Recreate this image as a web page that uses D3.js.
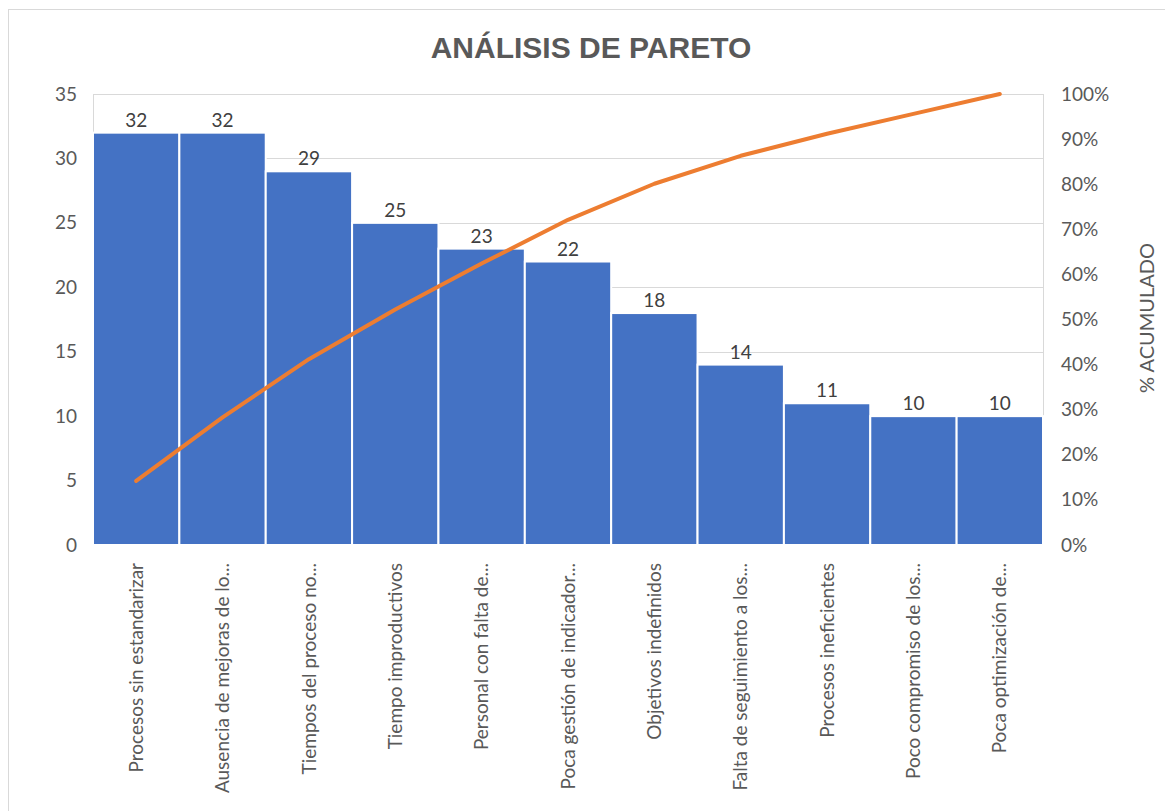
<!DOCTYPE html>
<html><head><meta charset="utf-8">
<script src="https://cdn.jsdelivr.net/npm/d3@7"></script>
<style>body{margin:0;background:#fff}svg{display:block}</style>
</head><body>
<script>
const categories = ["Procesos sin estandarizar","Ausencia de mejoras de lo...","Tiempos del proceso no...","Tiempo improductivos","Personal con falta de...","Poca gestión de indicador...","Objetivos indefinidos","Falta de seguimiento a los...","Procesos ineficientes","Poco compromiso de los...","Poca optimización de..."];
const counts = [32,32,29,25,23,22,18,14,11,10,10];
const cumulativePct = [14.2,28.3,41.2,52.2,62.4,72.1,80.1,86.3,91.2,95.6,100];
const leftTicks = [0,5,10,15,20,25,30,35];
const rightTicks = [0,10,20,30,40,50,60,70,80,90,100];

const W=1165,H=811;
const m={l:93,r:1043,t:94,b:545};
const svg=d3.select("body").append("svg").attr("width",W).attr("height",H);
svg.append("rect").attr("x",8.5).attr("y",9.5).attr("width",W).attr("height",H).attr("fill","#fff").attr("stroke","#d9d9d9");

const x=d3.scaleBand().domain(categories).range([m.l,m.r]).padding(0);
const y=d3.scaleLinear().domain([0,35]).range([m.b,m.t]);
const y2=d3.scaleLinear().domain([0,100]).range([m.b,m.t]);
const font="Lato, 'Open Sans', sans-serif";

// gridlines
svg.append("g").selectAll("line").data(leftTicks).join("line")
 .attr("x1",m.l).attr("x2",m.r).attr("y1",d=>Math.round(y(d))+0.5).attr("y2",d=>Math.round(y(d))+0.5)
 .attr("stroke","#d9d9d9").attr("stroke-width",1);
svg.append("line").attr("x1",m.l+0.5).attr("x2",m.l+0.5).attr("y1",m.t).attr("y2",m.b).attr("stroke","#d9d9d9");
svg.append("line").attr("x1",m.r+0.5).attr("x2",m.r+0.5).attr("y1",m.t).attr("y2",m.b).attr("stroke","#d9d9d9");

// bars
svg.append("g").selectAll("rect").data(counts).join("rect")
 .attr("x",(d,i)=>x(categories[i])).attr("width",x.bandwidth())
 .attr("y",d=>y(d)).attr("height",d=>y(0)-y(d))
 .attr("fill","#4472C4").attr("stroke","#fff").attr("stroke-width",2);

// bar labels
svg.append("g").selectAll("text").data(counts).join("text")
 .attr("x",(d,i)=>x(categories[i])+x.bandwidth()/2).attr("y",d=>y(d)-6)
 .attr("text-anchor","middle").attr("font-family",font).attr("font-size",19).attr("fill","#404040").text(d=>d);

// line
const line=d3.line().x((d,i)=>x(categories[i])+x.bandwidth()/2).y(d=>y2(d));
svg.append("path").datum(cumulativePct).attr("d",line).attr("fill","none")
 .attr("stroke","#ED7D31").attr("stroke-width",4).attr("stroke-linecap","round").attr("stroke-linejoin","round");

// left axis
const la=svg.append("g").attr("transform",`translate(${m.l},0)`)
 .call(d3.axisLeft(y).tickValues(leftTicks).tickSize(0).tickPadding(16));
la.select(".domain").remove();
la.selectAll("text").attr("font-family",font).attr("font-size",19).attr("fill","#595959");

// right axis
const ra=svg.append("g").attr("transform",`translate(${m.r},0)`)
 .call(d3.axisRight(y2).tickValues(rightTicks).tickSize(0).tickPadding(18).tickFormat(d=>d+"%"));
ra.select(".domain").remove();
ra.selectAll("text").attr("font-family",font).attr("font-size",19).attr("fill","#595959");

// bottom axis labels
const ba=svg.append("g").attr("transform",`translate(0,${m.b})`)
 .call(d3.axisBottom(x).tickSize(0).tickPadding(0));
ba.select(".domain").remove();
ba.selectAll("text").attr("font-family",font).attr("font-size",19).attr("fill","#595959")
 .attr("text-anchor","end").attr("dy","0.35em")
 .attr("transform","translate(0,18) rotate(-90)").attr("x",0).attr("y",0);

// title
svg.append("text").attr("x",591).attr("y",58).attr("text-anchor","middle")
 .attr("font-family","'Liberation Sans Narrow', 'Arial Narrow', sans-serif").attr("font-weight","bold")
 .attr("font-size",30).attr("fill","#595959").text("ANÁLISIS DE PARETO");

// right axis title
svg.append("text").attr("transform","translate(1154,318) rotate(-90)").attr("text-anchor","middle")
 .attr("font-family",font).attr("font-size",20).attr("fill","#595959").text("% ACUMULADO");
</script>
</body></html>
